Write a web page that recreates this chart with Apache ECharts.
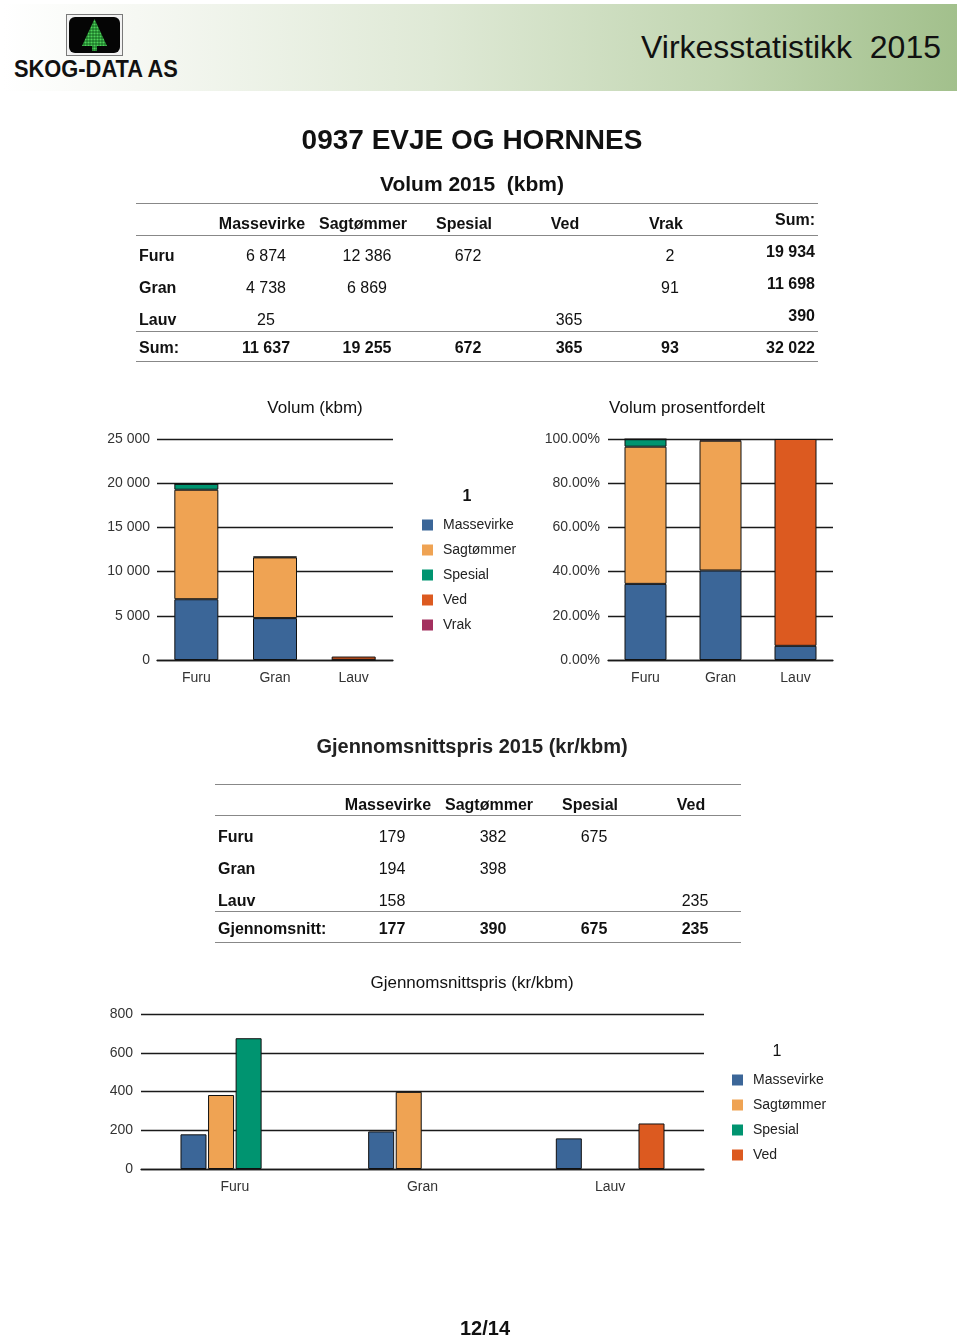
<!DOCTYPE html>
<html>
<head>
<meta charset="utf-8">
<script src="https://cdn.jsdelivr.net/npm/echarts@6/dist/echarts.min.js"></script>
<style>
html,body{margin:0;padding:0;background:#fff;}
body{width:960px;height:1338px;position:relative;overflow:hidden;font-family:"Liberation Sans",Arial,sans-serif;color:#111;}
#chart{position:absolute;left:0;top:0;width:960px;height:1338px;z-index:1;}
#overlay{position:absolute;left:0;top:0;width:960px;height:1338px;z-index:2;pointer-events:none;}
.t{position:absolute;white-space:pre;line-height:1;}
.hline{position:absolute;height:0;border-top:1.5px solid #888;}
#header{position:absolute;left:3px;top:4px;width:954px;height:87px;
  background:linear-gradient(to right,#ffffff 0%,#f6f8f3 14%,#dfe9d6 45%,#c2d6b2 75%,#a2c08c 100%);}
</style>
</head>
<body>
<div id="chart"></div>
<div id="overlay">
  <div id="header"></div>
  <svg style="position:absolute;left:66px;top:14px" width="57" height="42" viewBox="0 0 57 42">
    <defs>
      <pattern id="dots" width="3" height="3" patternUnits="userSpaceOnUse">
        <rect width="3" height="3" fill="#1d7a2a"/>
        <circle cx="1.5" cy="1.5" r="1.1" fill="#4fd35a"/>
      </pattern>
    </defs>
    <rect x="0.5" y="0.5" width="56" height="41" fill="#f2f2f2" stroke="#7a7a7a" stroke-width="1"/>
    <rect x="3" y="3" width="51" height="36" rx="6" ry="6" fill="#050505"/>
    <polygon points="28.5,5 41,32 16,32" fill="url(#dots)"/>
    <rect x="26" y="32" width="5" height="5" fill="url(#dots)"/>
  </svg>
</div>
<script>
// ---------- data ----------
const categories = ['Furu', 'Gran', 'Lauv'];
const assortments = ['Massevirke', 'Sagtømmer', 'Spesial', 'Ved', 'Vrak'];
const colors = ['#3b6698', '#efa353', '#009470', '#dc5a20', '#a3305f'];

// Volum (kbm)
const volMassevirke = [6874, 4738, 25];
const volSagtommer  = [12386, 6869, null];
const volSpesial    = [672, null, null];
const volVed        = [null, null, 365];
const volVrak       = [2, 91, null];
const volRowSum     = [19934, 11698, 390];
const volColSum     = [11637, 19255, 672, 365, 93];
const volTotal      = 32022;

// Volum prosentfordelt (%)
const pctMassevirke = [34.45, 40.50, 6.41];
const pctSagtommer  = [62.07, 58.72, null];
const pctSpesial    = [3.37, null, null];
const pctVed        = [null, null, 93.59];
const pctVrak       = [0.01, 0.78, null];

// Gjennomsnittspris (kr/kbm)
const priceAssortments = ['Massevirke', 'Sagtømmer', 'Spesial', 'Ved'];
const priceMassevirke = [179, 194, 158];
const priceSagtommer  = [382, 398, null];
const priceSpesial    = [675, null, null];
const priceVed        = [null, null, 235];
const priceAvg        = [177, 390, 675, 235];

// axis settings
const volAxisMax = 25000, volAxisStep = 5000;
const pctAxisMax = 100, pctAxisStep = 20;
const priceAxisMax = 800, priceAxisStep = 200;

// ---------- helpers ----------
const fmt = v => (v === null || v === undefined) ? '' : String(v).replace(/\B(?=(\d{3})+(?!\d))/g, ' ');
const overlay = document.getElementById('overlay');
function txt(s, x, y, align, size, weight, color) {
  const d = document.createElement('div');
  d.className = 't';
  d.textContent = s;
  const tx = align === 'c' ? '-50%' : (align === 'r' ? '-100%' : '0');
  d.style.left = x + 'px';
  d.style.top = (y + 1) + 'px';
  d.style.fontSize = size + 'px';
  d.style.fontWeight = weight || 'normal';
  d.style.color = color || '#111';
  d.style.transform = 'translate(' + tx + ',-50%)';
  overlay.appendChild(d);
  return d;
}
function hline(x1, x2, y) {
  const d = document.createElement('div');
  d.className = 'hline';
  d.style.left = x1 + 'px';
  d.style.width = (x2 - x1) + 'px';
  d.style.top = y + 'px';
  overlay.appendChild(d);
}

// ---------- header ----------
const logo = txt('SKOG-DATA AS', 14, 68, 'l', 23, 'bold', '#111');
logo.style.transformOrigin = '0 50%';
logo.style.transform = 'translate(0,-50%) scaleX(0.95)';
txt('Virkesstatistikk  2015', 941, 46, 'r', 32, 'normal', '#111');

txt('0937 EVJE OG HORNNES', 472, 139, 'c', 28, 'bold');
txt('Volum 2015  (kbm)', 472, 182, 'c', 21, 'bold');

// ---------- table 1 ----------
const t1HeadX = [262, 363, 464, 565, 666];
const t1Rows = [volMassevirke, volSagtommer, volSpesial, volVed, volVrak];
const t1RowY = [255, 287, 319];
hline(136, 818, 203); hline(136, 818, 235); hline(136, 818, 331); hline(136, 818, 361);
assortments.forEach((a, i) => txt(a, t1HeadX[i], 223, 'c', 16, 'bold'));
txt('Sum:', 815, 219, 'r', 16, 'bold');
categories.forEach((c, r) => {
  txt(c, 139, t1RowY[r], 'l', 16, 'bold');
  t1Rows.forEach((arr, i) => { if (arr[r] !== null) txt(fmt(arr[r]), t1HeadX[i] + 4, t1RowY[r], 'c', 16); });
  txt(fmt(volRowSum[r]), 815, t1RowY[r] - 4, 'r', 16, 'bold');
});
txt('Sum:', 139, 347, 'l', 16, 'bold');
volColSum.forEach((v, i) => txt(fmt(v), t1HeadX[i] + 4, 347, 'c', 16, 'bold'));
txt(fmt(volTotal), 815, 347, 'r', 16, 'bold');

// ---------- table 2 ----------
txt('Gjennomsnittspris 2015 (kr/kbm)', 472, 745, 'c', 20, 'bold', '#222');
const t2HeadX = [388, 489, 590, 691];
const t2Rows = [priceMassevirke, priceSagtommer, priceSpesial, priceVed];
const t2RowY = [836, 868, 900];
hline(215, 741, 784); hline(215, 741, 815); hline(215, 741, 911); hline(215, 741, 942);
priceAssortments.forEach((a, i) => txt(a, t2HeadX[i], 804, 'c', 16, 'bold'));
categories.forEach((c, r) => {
  txt(c, 218, t2RowY[r], 'l', 16, 'bold');
  t2Rows.forEach((arr, i) => { if (arr[r] !== null) txt(fmt(arr[r]), t2HeadX[i] + 4, t2RowY[r], 'c', 16); });
});
txt('Gjennomsnitt:', 218, 928, 'l', 16, 'bold');
priceAvg.forEach((v, i) => txt(fmt(v), t2HeadX[i] + 4, 928, 'c', 16, 'bold'));

txt('12/14', 485, 1327, 'c', 20, 'bold');

// ---------- charts ----------
const FONT = '"Liberation Sans", Arial, sans-serif';
const chart = echarts.init(document.getElementById('chart'), null, { renderer: 'canvas' });
const gridLine = { lineStyle: { color: '#1a1a1a', width: 1.3 } };
function xAx(gi) {
  return {
    type: 'category', gridIndex: gi, data: categories,
    axisLine: { show: true, lineStyle: { color: '#1a1a1a', width: 1.3 } },
    axisTick: { show: false },
    axisLabel: { color: '#333', fontSize: 14, margin: 11, fontFamily: FONT }
  };
}
function yAx(gi, max, step, formatter, margin) {
  return {
    type: 'value', gridIndex: gi, min: 0, max: max, interval: step,
    axisLine: { show: false }, axisTick: { show: false },
    splitLine: gridLine,
    axisLabel: { color: '#333', fontSize: 14, margin: margin, fontFamily: FONT, formatter: formatter }
  };
}
function barSeries(name, data, ci, gi, extra) {
  return Object.assign({
    type: 'bar', name: name, data: data, xAxisIndex: gi, yAxisIndex: gi,
    itemStyle: { color: colors[ci], borderColor: '#111', borderWidth: 1 },
    emphasis: { disabled: true }
  }, extra);
}
const volData = [volMassevirke, volSagtommer, volSpesial, volVed, volVrak];
const pctData = [pctMassevirke, pctSagtommer, pctSpesial, pctVed, pctVrak];
const priceData = [priceMassevirke, priceSagtommer, priceSpesial, priceVed];

const series = [];
assortments.forEach((a, i) => series.push(barSeries(a, volData[i], i, 0, { stack: 'vol', barWidth: 44 })));
assortments.forEach((a, i) => series.push(barSeries(a, pctData[i], i, 1, { stack: 'pct', barWidth: 42 })));
priceAssortments.forEach((a, i) => series.push(barSeries(a, priceData[i], i, 2, { barWidth: 26, barGap: '6%' })));

const legendCommon = {
  orient: 'vertical', icon: 'rect', itemWidth: 11, itemHeight: 11, itemGap: 11, padding: 0,
  selectedMode: false,
  itemStyle: { borderWidth: 0 },
  textStyle: { color: '#222', fontSize: 14, fontFamily: FONT, padding: [0, 0, 0, 5] }
};

chart.setOption({
  animation: false,
  backgroundColor: 'transparent',
  textStyle: { fontFamily: FONT },
  grid: [
    { left: 157, top: 439, width: 236, height: 221 },
    { left: 608, top: 439, width: 225, height: 221 },
    { left: 141, top: 1014, width: 563, height: 155 }
  ],
  xAxis: [xAx(0), xAx(1), xAx(2)],
  yAxis: [
    yAx(0, volAxisMax, volAxisStep, v => fmt(v), 7),
    yAx(1, pctAxisMax, pctAxisStep, v => v.toFixed(2) + '%', 8),
    yAx(2, priceAxisMax, priceAxisStep, v => fmt(v), 8)
  ],
  legend: [
    Object.assign({}, legendCommon, { left: 422, top: 518, data: assortments }),
    Object.assign({}, legendCommon, { left: 732, top: 1073, data: priceAssortments })
  ],
  graphic: [
    { type: 'text', x: 315, y: 408, style: { text: 'Volum (kbm)', fill: '#111', fontSize: 17, fontFamily: FONT, textAlign: 'center', textVerticalAlign: 'middle' } },
    { type: 'text', x: 687, y: 408, style: { text: 'Volum prosentfordelt', fill: '#111', fontSize: 17, fontFamily: FONT, textAlign: 'center', textVerticalAlign: 'middle' } },
    { type: 'text', x: 467, y: 497, style: { text: '1', fill: '#111', fontSize: 16, fontWeight: 'bold', fontFamily: FONT, textAlign: 'center', textVerticalAlign: 'middle' } },
    { type: 'text', x: 472, y: 983, style: { text: 'Gjennomsnittspris (kr/kbm)', fill: '#111', fontSize: 17, fontFamily: FONT, textAlign: 'center', textVerticalAlign: 'middle' } },
    { type: 'text', x: 777, y: 1052, style: { text: '1', fill: '#111', fontSize: 16, fontFamily: FONT, textAlign: 'center', textVerticalAlign: 'middle' } }
  ],
  series: series
});
</script>
</body>
</html>
